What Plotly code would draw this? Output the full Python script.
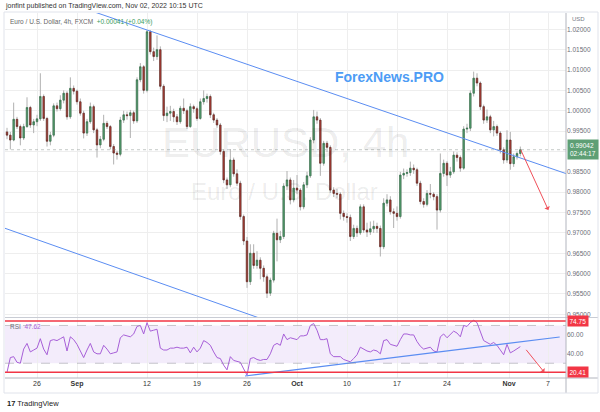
import plotly.graph_objects as go

# ---------------- data ----------------
opens = [0.9948,0.9940,0.9928,0.9979,0.9961,0.9933,0.9961,1.0008,0.9965,0.9973,
         0.9980,1.0035,0.9981,0.9925,0.9940,1.0012,1.0005,1.0026,1.0043,0.9985,
         1.0055,1.0048,1.0022,0.9994,0.9945,0.9973,1.0010,0.9953,0.9916,0.9930,
         0.9969,0.9961,0.9912,0.9896,0.9893,0.9977,0.9990,0.9988,0.9995,0.9975,
         1.0076,1.0108,1.0050,1.0194,1.0145,1.0133,1.0150,1.0060,0.9988,0.9994,
         0.9998,0.9985,0.9973,1.0006,1.0000,0.9961,1.0010,1.0005,0.9981,1.0022,
         1.0030,1.0035,0.9990,0.9977,0.9965,0.9900,0.9830,0.9818,0.9879,0.9845,
         0.9822,0.9740,0.9680,0.9580,0.9650,0.9620,0.9633,0.9613,0.9592,0.9552,
         0.9584,0.9699,0.9683,0.9691,0.9815,0.9830,0.9781,0.9810,0.9805,0.9764,
         0.9818,0.9840,0.9928,0.9985,0.9977,0.9871,0.9920,0.9910,0.9805,0.9797,
         0.9795,0.9748,0.9740,0.9738,0.9691,0.9711,0.9700,0.9764,0.9707,0.9702,
         0.9710,0.9716,0.9711,0.9666,0.9773,0.9781,0.9752,0.9748,0.9740,0.9842,
         0.9846,0.9848,0.9859,0.9855,0.9822,0.9777,0.9770,0.9797,0.9795,0.9789,
         0.9756,0.9846,0.9871,0.9842,0.9850,0.9891,0.9885,0.9859,0.9955,0.9957,
         1.0043,1.0080,1.0068,1.0010,0.9977,0.9985,0.9953,0.9961,0.9945,0.9904,
         0.9879,0.9928,0.9870,0.9887,0.9895]
highs = [0.9958,0.9948,1.0020,0.9985,0.9966,0.9968,1.0033,1.0012,0.9980,0.9990,
         1.0092,1.0040,0.9985,0.9948,1.0018,1.0020,1.0038,1.0050,1.0048,1.0082,
         1.0062,1.0052,1.0030,1.0000,0.9980,1.0020,1.0015,0.9958,0.9938,0.9990,
         0.9975,0.9965,0.9918,0.9902,0.9985,1.0000,0.9998,1.0002,1.0000,1.0082,
         1.0117,1.0112,1.0198,1.0198,1.0155,1.0185,1.0158,1.0065,1.0010,1.0012,
         1.0005,0.9992,1.0012,1.0030,1.0005,1.0018,1.0015,1.0010,1.0030,1.0050,
         1.0042,1.0040,0.9995,0.9982,0.9970,0.9905,0.9836,0.9906,0.9885,0.9856,
         0.9828,0.9745,0.9690,0.9672,0.9672,0.9655,0.9640,0.9620,0.9598,0.9590,
         0.9705,0.9735,0.9705,0.9822,0.9852,0.9836,0.9830,0.9842,0.9810,0.9825,
         0.9850,0.9935,1.0002,0.9998,0.9982,0.9926,0.9926,0.9915,0.9812,0.9808,
         0.9800,0.9755,0.9748,0.9745,0.9720,0.9718,0.9770,0.9770,0.9725,0.9728,
         0.9730,0.9725,0.9718,0.9785,0.9795,0.9790,0.9760,0.9765,0.9850,0.9858,
         0.9856,0.9875,0.9868,0.9860,0.9828,0.9785,0.9805,0.9820,0.9800,0.9795,
         0.9895,0.9880,0.9876,0.9862,0.9900,0.9898,0.9890,0.9962,0.9968,1.0050,
         1.0096,1.0092,1.0072,1.0015,1.0003,0.9990,0.9975,0.9966,0.9950,0.9910,
         0.9952,0.9948,0.9895,0.9900,0.9912]
lows = [0.9930,0.9905,0.9925,0.9955,0.9915,0.9928,0.9958,0.9958,0.9945,0.9962,
        0.9975,0.9975,0.9912,0.9915,0.9935,0.9998,1.0000,1.0018,0.9978,0.9980,
        1.0040,1.0015,0.9988,0.9932,0.9938,0.9968,0.9945,0.9885,0.9908,0.9925,
        0.9955,0.9905,0.9868,0.9880,0.9888,0.9970,0.9978,0.9933,0.9968,0.9970,
        1.0070,1.0042,1.0045,1.0138,1.0122,1.0125,1.0052,0.9975,0.9972,0.9975,
        0.9972,0.9965,0.9968,0.9992,0.9955,0.9958,0.9995,0.9975,0.9978,1.0015,
        1.0020,0.9982,0.9970,0.9958,0.9892,0.9822,0.9808,0.9812,0.9838,0.9815,
        0.9732,0.9670,0.9565,0.9572,0.9612,0.9612,0.9586,0.9580,0.9540,0.9545,
        0.9578,0.9630,0.9675,0.9685,0.9805,0.9770,0.9775,0.9795,0.9755,0.9758,
        0.9810,0.9835,0.9920,0.9968,0.9840,0.9865,0.9898,0.9798,0.9788,0.9785,
        0.9733,0.9730,0.9725,0.9680,0.9685,0.9690,0.9695,0.9700,0.9690,0.9695,
        0.9700,0.9700,0.9642,0.9660,0.9765,0.9745,0.9712,0.9730,0.9735,0.9832,
        0.9838,0.9840,0.9845,0.9815,0.9770,0.9762,0.9765,0.9785,0.9780,0.9708,
        0.9750,0.9838,0.9815,0.9835,0.9845,0.9875,0.9850,0.9855,0.9945,0.9950,
        1.0035,1.0060,1.0002,0.9968,0.9970,0.9945,0.9937,0.9938,0.9895,0.9870,
        0.9872,0.9855,0.9862,0.9880,0.9888]
closes = [0.9940,0.9928,0.9979,0.9961,0.9933,0.9961,1.0008,0.9965,0.9973,0.9980,
          1.0035,0.9981,0.9925,0.9940,1.0012,1.0005,1.0026,1.0043,0.9985,1.0055,
          1.0048,1.0022,0.9994,0.9945,0.9973,1.0010,0.9953,0.9916,0.9930,0.9969,
          0.9961,0.9912,0.9896,0.9893,0.9977,0.9990,0.9988,0.9995,0.9975,1.0076,
          1.0108,1.0050,1.0194,1.0145,1.0133,1.0150,1.0060,0.9988,0.9994,0.9998,
          0.9985,0.9973,1.0006,1.0000,0.9961,1.0010,1.0005,0.9981,1.0022,1.0030,
          1.0035,0.9990,0.9977,0.9965,0.9900,0.9830,0.9818,0.9879,0.9845,0.9822,
          0.9740,0.9680,0.9580,0.9650,0.9620,0.9633,0.9613,0.9592,0.9552,0.9584,
          0.9699,0.9683,0.9691,0.9815,0.9830,0.9781,0.9810,0.9805,0.9764,0.9818,
          0.9840,0.9928,0.9985,0.9977,0.9871,0.9920,0.9910,0.9805,0.9797,0.9795,
          0.9748,0.9740,0.9738,0.9691,0.9711,0.9700,0.9764,0.9707,0.9702,0.9710,
          0.9716,0.9711,0.9666,0.9773,0.9781,0.9752,0.9748,0.9740,0.9842,0.9846,
          0.9848,0.9859,0.9855,0.9822,0.9777,0.9770,0.9797,0.9795,0.9789,0.9756,
          0.9846,0.9871,0.9842,0.9850,0.9891,0.9885,0.9859,0.9955,0.9957,1.0043,
          1.0080,1.0068,1.0010,0.9977,0.9985,0.9953,0.9961,0.9945,0.9904,0.9879,
          0.9928,0.9870,0.9887,0.9895,0.99042]
rsi = [20.4,36,37,31,30,45,51,42,44,46,
       56,45,39,54,55,54,56,58,43,58,
       55,50,43,36,44,51,42,40,40,49,
       45,40,41,42,57,60,59,58,61,69,
       70,61,73,64,65,66,46,44,44,46,
       46,47,46,46,47,41,47,42,46,54,
       52,49,42,36,35,28,23,37,33,32,
       31,24,17.5,35,36,34,33,34,34,40,
       49,51,49,61,55,57,56,55,59,59,
       60,70,72,65,55,55,56,40,37,37,
       37,34,33,31.5,35,39,47,45,43,42,
       44,43,40,54,55,50,49,48,55,61,
       61,60,60,53,48,45,46,47,43,42,
       58,61,57,60,64,62,58,70,69,73,
       75.5,73,63,54,52,50,52,49,44,39,
       50,41,43,45,47.62]

tick_bars = [9, 21, 42, 57, 72, 87, 102, 117, 132, 150.6, 162.3]
tick_labels = ["26", "<b>Sep</b>", "12", "19", "26", "<b>Oct</b>", "10", "17", "24", "<b>Nov</b>", "7"]
price_ticks = [0.950, 0.955, 0.960, 0.965, 0.970, 0.975, 0.980, 0.985,
               0.990, 0.995, 1.000, 1.005, 1.010, 1.015, 1.020]
price_tick_labels = ["0.95000", "0.95500", "0.96000", "0.96500", "0.97000", "0.97500",
                     "0.98000", "0.98500", "", "0.99500", "1.00000", "1.00500",
                     "1.01000", "1.01500", "1.02000"]
rsi_ticks = [40, 60]
rsi_tick_labels = ["40.00", "60.00"]
upper_trend_bars = [25, 167.7]
upper_trend_prices = [1.0246, 0.98456]
lower_trend_bars = [-0.6, 76]
lower_trend_prices = [0.97113, 0.9490]
rsi_trend_bars = [71.4, 165.8]
rsi_trend_values = [16.5, 57.8]
rsi_levels = [74.75, 20.41]
rsi_band = [30, 70]
last_price = 0.99042
price_arrow_bars = [153.9, 162.4]
price_arrow_prices = [0.99078, 0.97562]
rsi_arrow_bars = [155.4, 161.2]
rsi_arrow_values = [45.8, 20.4]

bars = list(range(len(closes)))

# ---------------- layout helpers ----------------
W, H = 600, 412
L, R, T, B = 5, 34, 13, 34
PW, PH = W - L - R, H - T - B


def px(x):
    return (x - L) / PW


def py(y):
    return (H - B - y) / PH


FONT = "Liberation Sans, Arial, sans-serif"
GRID = "#eeeeee"
AXIS = "#b2b5be"

body_hi = [max(o, c) for o, c in zip(opens, closes)]
body_lo = [min(o, c) for o, c in zip(opens, closes)]

fig = go.Figure()

# wicks (grey)
fig.add_trace(go.Candlestick(
    x=bars, open=opens, high=highs, low=lows, close=closes,
    xaxis="x2", yaxis="y",
    increasing=dict(line=dict(color="#b0b0b0", width=1), fillcolor="#b0b0b0"),
    decreasing=dict(line=dict(color="#b0b0b0", width=1), fillcolor="#b0b0b0"),
    hoverinfo="skip", showlegend=False))
# bodies
fig.add_trace(go.Candlestick(
    x=bars, open=opens, high=body_hi, low=body_lo, close=closes,
    xaxis="x2", yaxis="y",
    increasing=dict(line=dict(color="#2f6e47", width=0.6), fillcolor="#5aa072"),
    decreasing=dict(line=dict(color="#5e221d", width=0.6), fillcolor="#b3443a"),
    hoverinfo="skip", showlegend=False))

# channel lines
fig.add_trace(go.Scatter(x=upper_trend_bars, y=upper_trend_prices, mode="lines",
                         line=dict(color="#5b8df2", width=1), xaxis="x2", yaxis="y",
                         hoverinfo="skip", showlegend=False))
fig.add_trace(go.Scatter(x=lower_trend_bars, y=lower_trend_prices, mode="lines",
                         line=dict(color="#5b8df2", width=1), xaxis="x2", yaxis="y",
                         hoverinfo="skip", showlegend=False))

# RSI
fig.add_trace(go.Scatter(x=bars, y=rsi, mode="lines",
                         line=dict(color="#a75fd8", width=1), xaxis="x", yaxis="y2",
                         hoverinfo="skip", showlegend=False))
fig.add_trace(go.Scatter(x=rsi_trend_bars, y=rsi_trend_values, mode="lines",
                         line=dict(color="#5b8df2", width=1.2), xaxis="x", yaxis="y2",
                         hoverinfo="skip", showlegend=False))

shapes = []
# RSI band
shapes.append(dict(type="rect", xref="x domain", yref="y2", x0=0, x1=1,
                   y0=rsi_band[0], y1=rsi_band[1], fillcolor="rgba(156,100,220,0.12)",
                   line=dict(width=0), layer="below"))
for v in rsi_band:
    shapes.append(dict(type="line", xref="x domain", yref="y2", x0=0, x1=1, y0=v, y1=v,
                       line=dict(color="rgba(140,140,150,0.6)", width=0.8, dash="dash")))
for v in rsi_levels:
    shapes.append(dict(type="line", xref="x domain", yref="y2", x0=0, x1=1, y0=v, y1=v,
                       line=dict(color="#f23645", width=1.4)))
# last price dotted line
shapes.append(dict(type="line", xref="x2 domain", yref="y", x0=0, x1=1,
                   y0=last_price, y1=last_price,
                   line=dict(color="rgba(120,130,125,0.55)", width=0.8, dash="dot")))
# pane separator
shapes.append(dict(type="line", xref="paper", yref="paper", x0=0, x1=(598 - L) / PW,
                   y0=py(317.5), y1=py(317.5), line=dict(color="#c9ccd4", width=1)))
# right axis line and bottom time-axis line
shapes.append(dict(type="line", xref="paper", yref="paper", x0=1, x1=1,
                   y0=py(393), y1=py(T), line=dict(color=AXIS, width=1)))
shapes.append(dict(type="line", xref="paper", yref="paper", x0=0, x1=(598 - L) / PW,
                   y0=0, y1=0, line=dict(color=AXIS, width=1)))
# outer frame
shapes.append(dict(type="rect", xref="paper", yref="paper", x0=px(4), x1=px(598),
                   y0=py(393), y1=py(12), line=dict(color="#e0e3eb", width=1)))

ann = []


def txt(x, y, s, size, color, xanchor="left", yanchor="middle", **kw):
    ann.append(dict(x=px(x), y=py(y), xref="paper", yref="paper", text=s, showarrow=False,
                    xanchor=xanchor, yanchor=yanchor,
                    font=dict(family=FONT, size=size, color=color), **kw))


txt(3, 6, "jonfint published on TradingView.com, Nov 02, 2022 10:15 UTC", 7, "#333333")
txt(8, 22, "Euro / U.S. Dollar, 4h, FXCM  <span style='color:#3a9a5c'>+0.00041 (+0.04%)</span>",
    6.5, "#666666")
txt(570, 19, "USD", 6, "#787b86")
txt(285, 142, "EURUSD, 4h", 42, "rgba(0,0,0,0.085)", xanchor="center")
txt(284, 191, "Euro / U.S. Dollar", 24, "rgba(0,0,0,0.085)", xanchor="center")
txt(389, 77, "<b>ForexNews.PRO</b>", 14, "#4d9cf5", xanchor="center")
txt(8, 326, "RSI  <span style='color:#a75fd8'>47.62</span>", 6.5, "#6b6e78")
txt(5, 403, "<b>17</b> TradingView", 7.5, "#222222")

# price label on axis
ann.append(dict(x=px(567), y=last_price, xref="paper", yref="y",
                text="0.99042<br>02:44:17", showarrow=False, xanchor="left", yanchor="middle",
                bgcolor="#5e9f75", borderpad=2, align="left",
                font=dict(family=FONT, size=6.5, color="white")))
for v in rsi_levels:
    ann.append(dict(x=px(567), y=v, xref="paper", yref="y2",
                    text=f"{v:.2f}", showarrow=False, xanchor="left", yanchor="middle",
                    bgcolor="#f23645", borderpad=1.5,
                    font=dict(family=FONT, size=6.5, color="white")))

# arrows
ann.append(dict(x=price_arrow_bars[1], y=price_arrow_prices[1], xref="x2", yref="y",
                ax=price_arrow_bars[0], ay=price_arrow_prices[0], axref="x2", ayref="y",
                showarrow=True, arrowhead=1, arrowsize=1, arrowwidth=1,
                arrowcolor="#f0505a", text=""))
ann.append(dict(x=rsi_arrow_bars[1], y=rsi_arrow_values[1], xref="x", yref="y2",
                ax=rsi_arrow_bars[0], ay=rsi_arrow_values[0], axref="x", ayref="y2",
                showarrow=True, arrowhead=1, arrowsize=1, arrowwidth=1,
                arrowcolor="#f0505a", text=""))

xr = [-0.6, 167.7]
fig.update_layout(
    width=W, height=H,
    margin=dict(l=L, r=R, t=T, b=B),
    paper_bgcolor="white", plot_bgcolor="white",
    font=dict(family=FONT),
    showlegend=False,
    boxgap=0.4,
    xaxis=dict(domain=[0, 1], anchor="y2", range=xr, tickvals=tick_bars, ticktext=tick_labels,
               showgrid=True, gridcolor=GRID, zeroline=False, showline=False, ticks="",
               tickfont=dict(size=7, color="#333333"), rangeslider=dict(visible=False),
               fixedrange=True),
    xaxis2=dict(domain=[0, 1], anchor="y", range=xr, matches="x", tickvals=tick_bars,
                showticklabels=False, showgrid=True, gridcolor=GRID, zeroline=False,
                ticks="", rangeslider=dict(visible=False)),
    yaxis=dict(domain=[py(317), 1], anchor="x2", side="right", range=[0.94934, 1.0240],
               tickvals=price_ticks, ticktext=price_tick_labels,
               showgrid=True, gridcolor=GRID, zeroline=False, ticks="",
               tickfont=dict(size=6.5, color="#6b6e78")),
    yaxis2=dict(domain=[0, py(318)], anchor="x", side="right", range=[14.4, 77.9],
                tickvals=rsi_ticks, ticktext=rsi_tick_labels,
                showgrid=False, zeroline=False, ticks="",
                tickfont=dict(size=6.5, color="#6b6e78")),
    shapes=shapes,
    annotations=ann,
)

fig.write_html("out.html", config={"displayModeBar": False},
               post_script="document.body.style.margin='0';document.body.style.padding='0';")
